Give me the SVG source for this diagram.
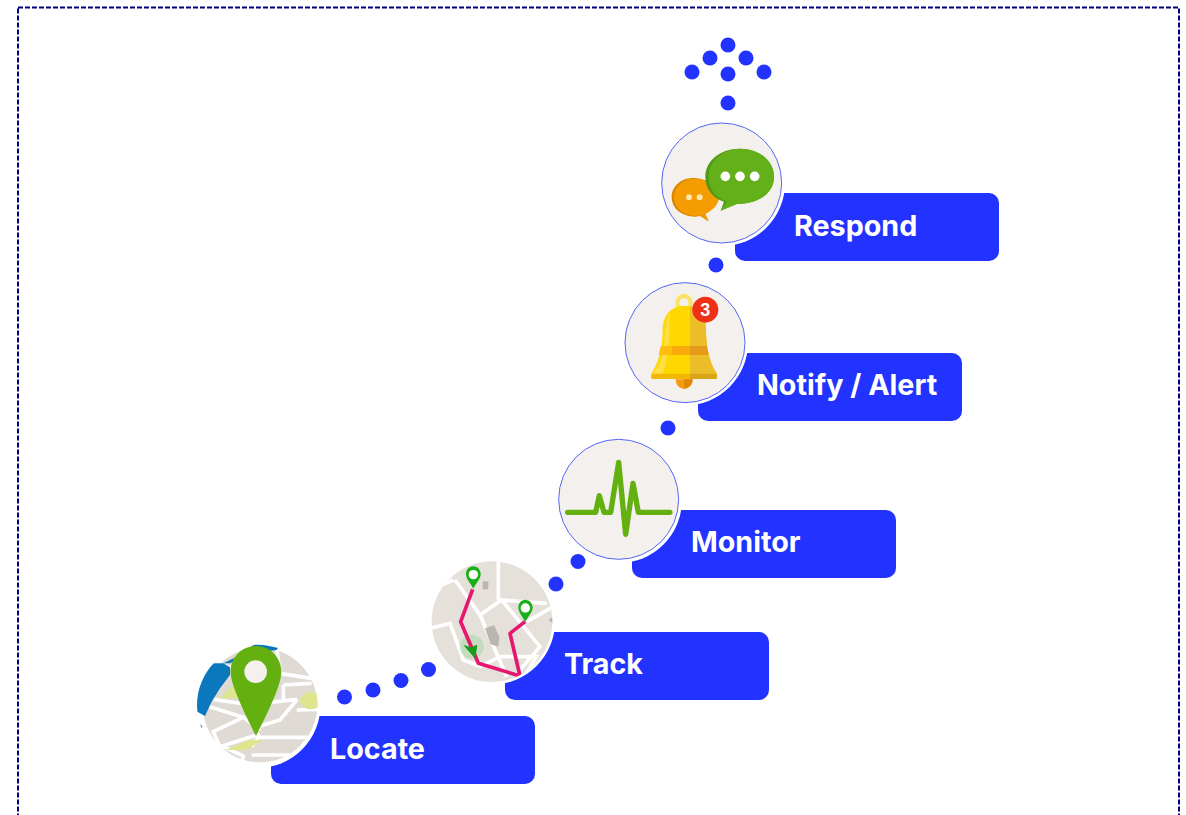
<svg xmlns="http://www.w3.org/2000/svg" width="1186" height="815" viewBox="0 0 1186 815">
<style>
.box{fill:#2233ff}
.ring{fill:#fff}
.disc{fill:#f3f0ed;stroke:#5266f5;stroke-width:3}
.label{font-family:"Inter","Liberation Sans",sans-serif;font-weight:700;font-size:28.700px;fill:#fff}
.dot{fill:#2233ff}
.block{fill:#dfdad3}
.road{fill:none;stroke:#fff;stroke-width:11}
</style>
<defs>
<clipPath id="c1"><circle cx="232" cy="225" r="181"/></clipPath>
<clipPath id="c2"><circle cx="216" cy="215" r="181"/></clipPath>
</defs>
<rect x="18" y="7.500" width="1161" height="830" fill="#fff" stroke="#000080" stroke-width="2" stroke-dasharray="5 2"/>
<g id="connectors">
<circle class="dot" cx="344.500" cy="697" r="7.500"/><circle class="dot" cx="373" cy="690" r="7.500"/><circle class="dot" cx="401" cy="680.500" r="7.500"/><circle class="dot" cx="428.500" cy="669.500" r="7.500"/>
<circle class="dot" cx="556" cy="584" r="7.500"/><circle class="dot" cx="578" cy="561.500" r="7.500"/>
<circle class="dot" cx="668" cy="428" r="7.500"/>
<circle class="dot" cx="716" cy="265" r="7.500"/>
<circle class="dot" cx="728" cy="103" r="7.500"/><circle class="dot" cx="728" cy="74" r="7.500"/><circle class="dot" cx="692" cy="72" r="7.500"/><circle class="dot" cx="710" cy="58" r="7.500"/><circle class="dot" cx="746" cy="58" r="7.500"/><circle class="dot" cx="764" cy="72" r="7.500"/><circle class="dot" cx="728" cy="45" r="7.500"/>
</g>
<g id="node-locate">
<rect class="box" x="271" y="716" width="264" height="68" rx="10"/>
<circle class="ring" cx="257.500" cy="705" r="63"/>
<g transform="translate(180 630) scale(.3333)">
<g clip-path="url(#c1)">
<rect x="40" y="30" width="390" height="390" fill="#fff"/>
<circle class="block" cx="240" cy="225" r="172"/>
<path class="road" stroke-width="13" d="M72 225L190 262 240 300M190 262L100 305 120 350 240 312M240 322H420M215 350L240 315M130 350L190 378 180 420M215 375H345L385 325M300 130L395 145M300 130L290 55M310 165L395 160M262 218L352 208M352 208L300 270 240 288M350 240L420 238M310 165V210M100 208L195 222M110 100L160 115"/>
<path fill="#0b78bd" d="M30 255V100H130L150 112V135L120 175 95 215 75 258 52 245Z"/>
<path fill="#0b78bd" d="M130 100L180 76 240 30H310L290 60 210 70 150 100Z"/>
<path fill="#0b78bd" d="M50 272L68 290 60 296Z"/>
<path fill="#dfe58e" d="M120 205L160 165 178 205Z"/>
<path fill="#dfe58e" d="M138 360L205 330H248L200 360Z"/>
<ellipse fill="#dfe58e" cx="392" cy="212" rx="32" ry="26"/>
</g>
<path fill="#64b010" d="M228 48C185 48 152 82 152 125 152 170 205 270 228 318 252 270 304 170 304 125 304 82 270 48 228 48Z"/>
<circle cx="227" cy="125" r="34" fill="#f3f0ed"/>
</g>
<text class="label" x="330" y="759">Locate</text>
</g>
<g id="node-track">
<rect class="box" x="505" y="632" width="264" height="68" rx="10"/>
<circle class="ring" cx="492" cy="621.500" r="63"/>
<g transform="translate(420 550) scale(.3333)">
<g clip-path="url(#c2)">
<rect x="30" y="30" width="375" height="375" fill="#e5e0da"/>
<path class="road" d="M105 90L180 195 260 380M30 235L90 220 130 330 185 350M180 195L245 150 380 160M235 30V150M245 150L360 290 300 360M180 350L240 320 350 320 300 400M400 170L320 215M30 120L100 90"/>
<path fill="#bab5b0" d="M195 235L222 226 238 260 235 290 212 283Z"/>
<rect x="188" y="94" width="17" height="24" fill="#bab5b0"/>
<path fill="#bab5b0" d="M385 210L400 200V222Z"/>
<circle cx="155" cy="290" r="36" fill="#9fd89f" fill-opacity=".5"/>
<path fill="none" stroke="#e6176f" stroke-width="11" stroke-linejoin="round" d="M158 118L122 215 175 340 300 378 270 250 315 215"/>
<path fill="#1a9a1a" d="M130 285L152 292 172 284 166 326Z"/>
</g>
<path fill="#19b019" d="M160 49C147 49 138 60 138 72 138 88 152 100 160 116 168 100 182 88 182 72 182 60 173 49 160 49Z"/>
<circle cx="160" cy="74" r="14" fill="#fff"/>
<path fill="#19b019" d="M316 149C304 149 295 160 295 172 295 188 308 200 316 216 324 200 338 188 338 172 338 160 328 149 316 149Z"/>
<circle cx="316" cy="174" r="14" fill="#fff"/>
</g>
<text class="label" x="564" y="674">Track</text>
</g>
<g id="node-monitor">
<rect class="box" x="632" y="510" width="264" height="68" rx="10"/>
<circle class="ring" cx="619" cy="500" r="63"/>
<g transform="translate(545 430) scale(.3333)">
<circle class="disc" cx="221" cy="208" r="180"/>
<path fill="none" stroke="#64b010" stroke-width="16" stroke-linecap="round" stroke-linejoin="round" d="M68 247H152L163 197 177 247H197L221 97 242 313 264 160 280 247H375"/>
</g>
<text class="label" x="691" y="552">Monitor</text>
</g>
<g id="node-notify">
<rect class="box" x="698" y="353" width="264" height="68" rx="10"/>
<circle class="ring" cx="685" cy="342.500" r="63"/>
<g transform="translate(610 270) scale(.3333)">
<circle class="disc" cx="225" cy="218" r="180"/>
<circle cx="222" cy="98" r="20" fill="none" stroke="#fbe36a" stroke-width="13"/>
<path fill="#ffd800" d="M222 108C180 108 158 140 158 180 158 235 145 280 124 310L124 326H320V310C300 280 288 235 288 180 288 140 264 108 222 108Z"/>
<path fill="#ebbd28" d="M240 108C270 112 288 140 288 180 288 235 300 280 320 310V326H240Z"/>
<path fill="#ffe04a" d="M180 125C165 150 166 210 160 250 155 280 140 300 124 312V326H150C170 290 178 230 178 180 178 155 178 140 180 125Z"/>
<path fill="#f8a90c" d="M153 228H290L296 255H147Z"/>
<path fill="#e69a18" d="M240 228H290L296 255H240Z"/>
<path fill="#ffc30a" d="M153 228H188L185 255H147Z" opacity=".8"/>
<rect x="124" y="311" width="197" height="16" rx="5" fill="#f2b705"/>
<path fill="#d9a417" d="M240 311H316Q321 311 321 316V322Q321 327 316 327H240Z"/>
<path fill="#f59b12" d="M197 328H248C248 345 236 356 222 356 208 356 197 345 197 328Z"/>
<path fill="#e08800" d="M222 328H248C248 345 236 356 222 356Z"/>
<circle cx="286" cy="119" r="39" fill="#ee3017"/>
<text x="286" y="138" font-family="'Liberation Sans',sans-serif" font-weight="700" font-size="54" fill="#fff" text-anchor="middle">3</text>
</g>
<text class="label" x="757" y="395">Notify / Alert</text>
</g>
<g id="node-respond">
<rect class="box" x="735" y="193" width="264" height="68" rx="10"/>
<circle class="ring" cx="722" cy="183" r="63"/>
<g transform="translate(650 30) scale(.3333)">
<circle class="disc" cx="215" cy="459" r="180"/>
<path fill="#d98500" d="M130 444C92 444 65 470 65 502 65 535 95 560 135 560L150 558 176 574 164 552C190 540 205 520 205 500 205 470 170 444 130 444Z"/>
<path fill="#f59c00" d="M135 446C98 446 72 472 72 502 72 535 100 558 138 558L150 556 176 574 166 550C192 540 207 520 207 500 207 470 172 446 135 446Z"/>
<circle cx="117" cy="502" r="9" fill="#fde4b0"/><circle cx="149" cy="502" r="9" fill="#fde4b0"/>
<path fill="#4f9a10" d="M268 356C212 356 166 392 166 440 166 478 190 505 222 515L212 542 258 522C325 522 372 490 372 440 372 392 325 356 268 356Z"/>
<path fill="#64b01a" d="M272 356C220 356 176 392 176 440 176 478 198 505 232 515L212 542 262 522C325 522 372 490 372 440 372 392 328 356 272 356Z"/>
<circle cx="226" cy="439" r="14.500" fill="#fff"/><circle cx="270" cy="439" r="14.500" fill="#fff"/><circle cx="314" cy="439" r="14.500" fill="#fff"/>
</g>
<text class="label" x="794" y="236">Respond</text>
</g>
</svg>
